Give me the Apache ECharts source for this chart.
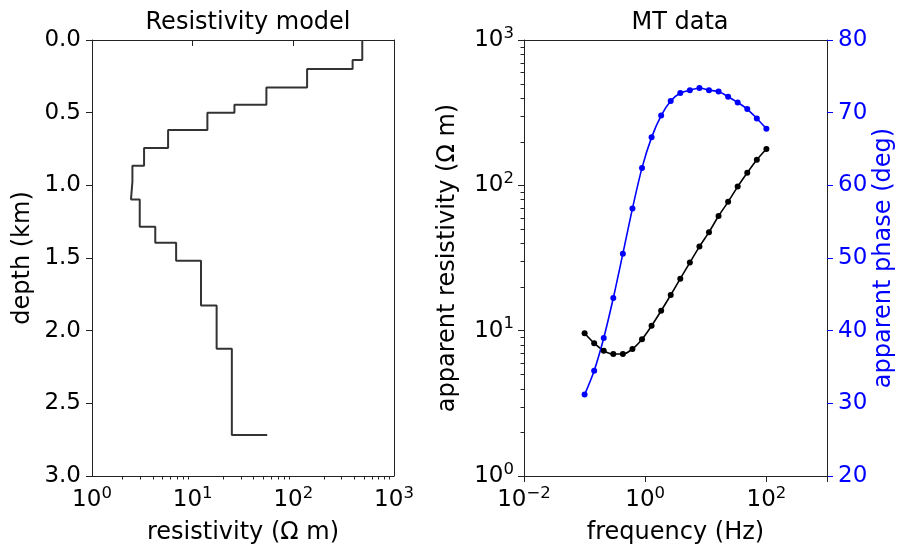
<!DOCTYPE html>
<html><head><meta charset="utf-8">
<script src="https://cdn.jsdelivr.net/npm/echarts@6/dist/echarts.min.js"></script>
<style>html,body{margin:0;padding:0;background:#fff}#c{width:898px;height:551px}</style>
</head><body><div id="c"></div>
<script>
// ---- Resistivity model (layered) ----
const layerResistivity = [484, 388, 137, 54, 26, 14, 5.7, 3.29, 2.52, 2.44, 2.98, 4.25, 6.85, 12.1, 17.3, 24.5, 55];
const layerTopDepth   = [0, 0.138, 0.2, 0.326, 0.445, 0.50, 0.62, 0.743, 0.865, 0.975, 1.097, 1.285, 1.395, 1.519, 1.826, 2.124, 2.718];

// ---- MT data ----
const frequency = [0.1, 0.1438, 0.2069, 0.2976, 0.4281, 0.6158, 0.8859, 1.2743, 1.833, 2.6367,
                   3.7927, 5.4556, 7.8476, 11.288, 16.238, 23.357, 33.598, 48.329, 69.519, 100];
const apparentResistivity = [9.6, 8.2, 7.28, 6.91, 6.91, 7.48, 8.73, 10.8, 13.7, 17.6,
                             22.8, 29.4, 37.9, 47.6, 61.5, 77, 98, 122, 150, 178];
const apparentPhase = [31.2, 34.5, 39.0, 44.5, 50.6, 56.8, 62.4, 66.6, 69.6, 71.6,
                       72.7, 73.1, 73.4, 73.1, 72.9, 72.2, 71.4, 70.5, 69.2, 67.8];

// ---- tick labels / minor tick values ----
const depthTicks = ['0.0','0.5','1.0','1.5','2.0','2.5','3.0'];
const minorMantissa = [2, 3, 4, 5, 6, 7, 8, 9];
const minorDecades = [1, 10, 100];

const FONT = 'DejaVu Sans';
const FS = 23;   // tick labels
const NS = 24;   // axis names, titles
const AX = '#222';

const minorVals = [];
minorDecades.forEach(d => minorMantissa.forEach(m => minorVals.push(m * d)));

// step line for model
const modelLine = [];
for (let i = 0; i < layerResistivity.length - 1; i++) {
  modelLine.push([layerResistivity[i], layerTopDepth[i]]);
  modelLine.push([layerResistivity[i], layerTopDepth[i + 1]]);
}
modelLine.push([layerResistivity[layerResistivity.length - 1], layerTopDepth[layerTopDepth.length - 1]]);

function powLabel(v) {
  const e = Math.round(Math.log10(v));
  const es = e < 0 ? '\u2212' + (-e) : String(e);
  return '{b|10}{s|' + es + '}';
}
const powRich = {
  b: { fontSize: FS, fontFamily: FONT, color: '#000', lineHeight: 30, verticalAlign: 'middle' },
  s: { fontSize: 16.5, fontFamily: FONT, color: '#000', lineHeight: 17, verticalAlign: 'top' }
};

const chart = echarts.init(document.getElementById('c'));
const nameStyle = { fontSize: NS, fontFamily: FONT, color: '#000' };
const spine = (extra) => Object.assign({
  axisLine: { show: true, lineStyle: { color: AX } },
  axisTick: { show: false }, axisLabel: { show: false }, splitLine: { show: false }, silent: true
}, extra);

chart.setOption({
  animation: false,
  backgroundColor: '#fff',
  title: [
    { text: 'Resistivity model', left: 243, top: 6, textAlign: 'center',
      textStyle: { fontSize: NS, fontWeight: 'normal', fontFamily: FONT, color: '#000' } },
    { text: 'MT data', left: 675, top: 6, textAlign: 'center',
      textStyle: { fontSize: NS, fontWeight: 'normal', fontFamily: FONT, color: '#000' } }
  ],
  grid: [
    { left: 92, top: 40, width: 302, height: 436, show: false },
    { left: 524, top: 40, width: 303, height: 436, show: false }
  ],
  xAxis: [
    { type: 'log', gridIndex: 0, min: 1, max: 1000, logBase: 10, position: 'bottom',
      axisLine: { show: true, lineStyle: { color: AX } },
      axisTick: { show: true, length: 6, lineStyle: { color: AX } },
      splitLine: { show: false },
      axisLabel: { formatter: powLabel, rich: powRich, margin: 9 },
      name: 'resistivity (\u03A9 m)', nameLocation: 'middle', nameGap: 45, nameTextStyle: nameStyle },
    { type: 'log', gridIndex: 1, min: 0.01, max: 1000, logBase: 10, interval: 2, position: 'bottom',
      axisLine: { show: true, lineStyle: { color: AX } },
      axisTick: { show: true, length: 6, lineStyle: { color: AX } },
      splitLine: { show: false },
      axisLabel: { formatter: v => (v > 500 ? '' : powLabel(v)), rich: powRich, margin: 9 },
      name: 'frequency (Hz)', nameLocation: 'middle', nameGap: 45, nameTextStyle: nameStyle },
    spine({ type: 'value', gridIndex: 0, min: 0, max: 1, position: 'top' }),
    spine({ type: 'value', gridIndex: 1, min: 0, max: 1, position: 'top' })
  ],
  yAxis: [
    { type: 'value', gridIndex: 0, inverse: true, min: 0, max: 3, interval: 0.5,
      axisLine: { show: true, lineStyle: { color: AX } },
      axisTick: { show: true, length: 6, lineStyle: { color: AX } },
      splitLine: { show: false },
      axisLabel: { formatter: (v, i) => depthTicks[i] !== undefined ? depthTicks[i] : v.toFixed(1),
                   fontSize: FS, fontFamily: FONT, color: '#000', margin: 11 },
      name: 'depth (km)', nameLocation: 'middle', nameRotate: 90, nameGap: 57, nameTextStyle: nameStyle },
    { type: 'log', gridIndex: 1, min: 1, max: 1000, logBase: 10, position: 'left',
      axisLine: { show: true, lineStyle: { color: AX } },
      axisTick: { show: true, length: 6, lineStyle: { color: AX } },
      splitLine: { show: false },
      axisLabel: { formatter: powLabel, rich: powRich, margin: 10 },
      name: 'apparent resistivity (\u03A9 m)', nameLocation: 'middle', nameRotate: 90, nameGap: 64, nameTextStyle: nameStyle },
    { type: 'value', gridIndex: 1, min: 20, max: 80, interval: 10, position: 'right',
      axisLine: { show: true, lineStyle: { color: AX } },
      axisTick: { show: true, length: 6, lineStyle: { color: '#0000ff' } },
      splitLine: { show: false },
      axisLabel: { fontSize: FS, fontFamily: FONT, color: '#0000ff', margin: 11 },
      name: 'apparent phase (deg)', nameLocation: 'middle', nameRotate: 90, nameGap: 45,
      nameTextStyle: { fontSize: NS, fontFamily: FONT, color: '#0000ff' } },
    spine({ type: 'value', gridIndex: 0, min: 0, max: 1, position: 'right' })
  ],
  series: [
    { type: 'line', xAxisIndex: 0, yAxisIndex: 0, data: modelLine, showSymbol: false, symbol: 'none',
      lineStyle: { color: '#333', width: 2 }, silent: true },
    { type: 'line', xAxisIndex: 1, yAxisIndex: 1, data: frequency.map((f, i) => [f, apparentResistivity[i]]),
      symbol: 'circle', symbolSize: 6, smooth: 0.3,
      itemStyle: { color: '#000' }, lineStyle: { color: '#000', width: 1.6 }, silent: true },
    { type: 'line', xAxisIndex: 1, yAxisIndex: 2, data: frequency.map((f, i) => [f, apparentPhase[i]]),
      symbol: 'circle', symbolSize: 6, smooth: 0.3,
      itemStyle: { color: '#0000ff' }, lineStyle: { color: '#0000ff', width: 1.6 }, silent: true },
    // minor ticks, bottom axis of model plot
    { type: 'custom', xAxisIndex: 0, yAxisIndex: 0, silent: true, clip: false,
      data: minorVals.map(v => [v, 3]),
      renderItem: (params, api) => {
        const p = api.coord([api.value(0), api.value(1)]);
        const x = Math.round(p[0]) + 0.5;
        return { type: 'line', shape: { x1: x, y1: p[1], x2: x, y2: p[1] + 3.5 }, style: { stroke: AX, lineWidth: 1 } };
      } },
    // minor ticks, left axis of MT plot
    { type: 'custom', xAxisIndex: 1, yAxisIndex: 1, silent: true, clip: false,
      data: minorVals.map(v => [0.01, v]),
      renderItem: (params, api) => {
        const p = api.coord([api.value(0), api.value(1)]);
        const y = Math.round(p[1]) + 0.5;
        return { type: 'line', shape: { x1: p[0] - 3.5, y1: y, x2: p[0], y2: y }, style: { stroke: AX, lineWidth: 1 } };
      } }
  ]
});
</script>
</body></html>
